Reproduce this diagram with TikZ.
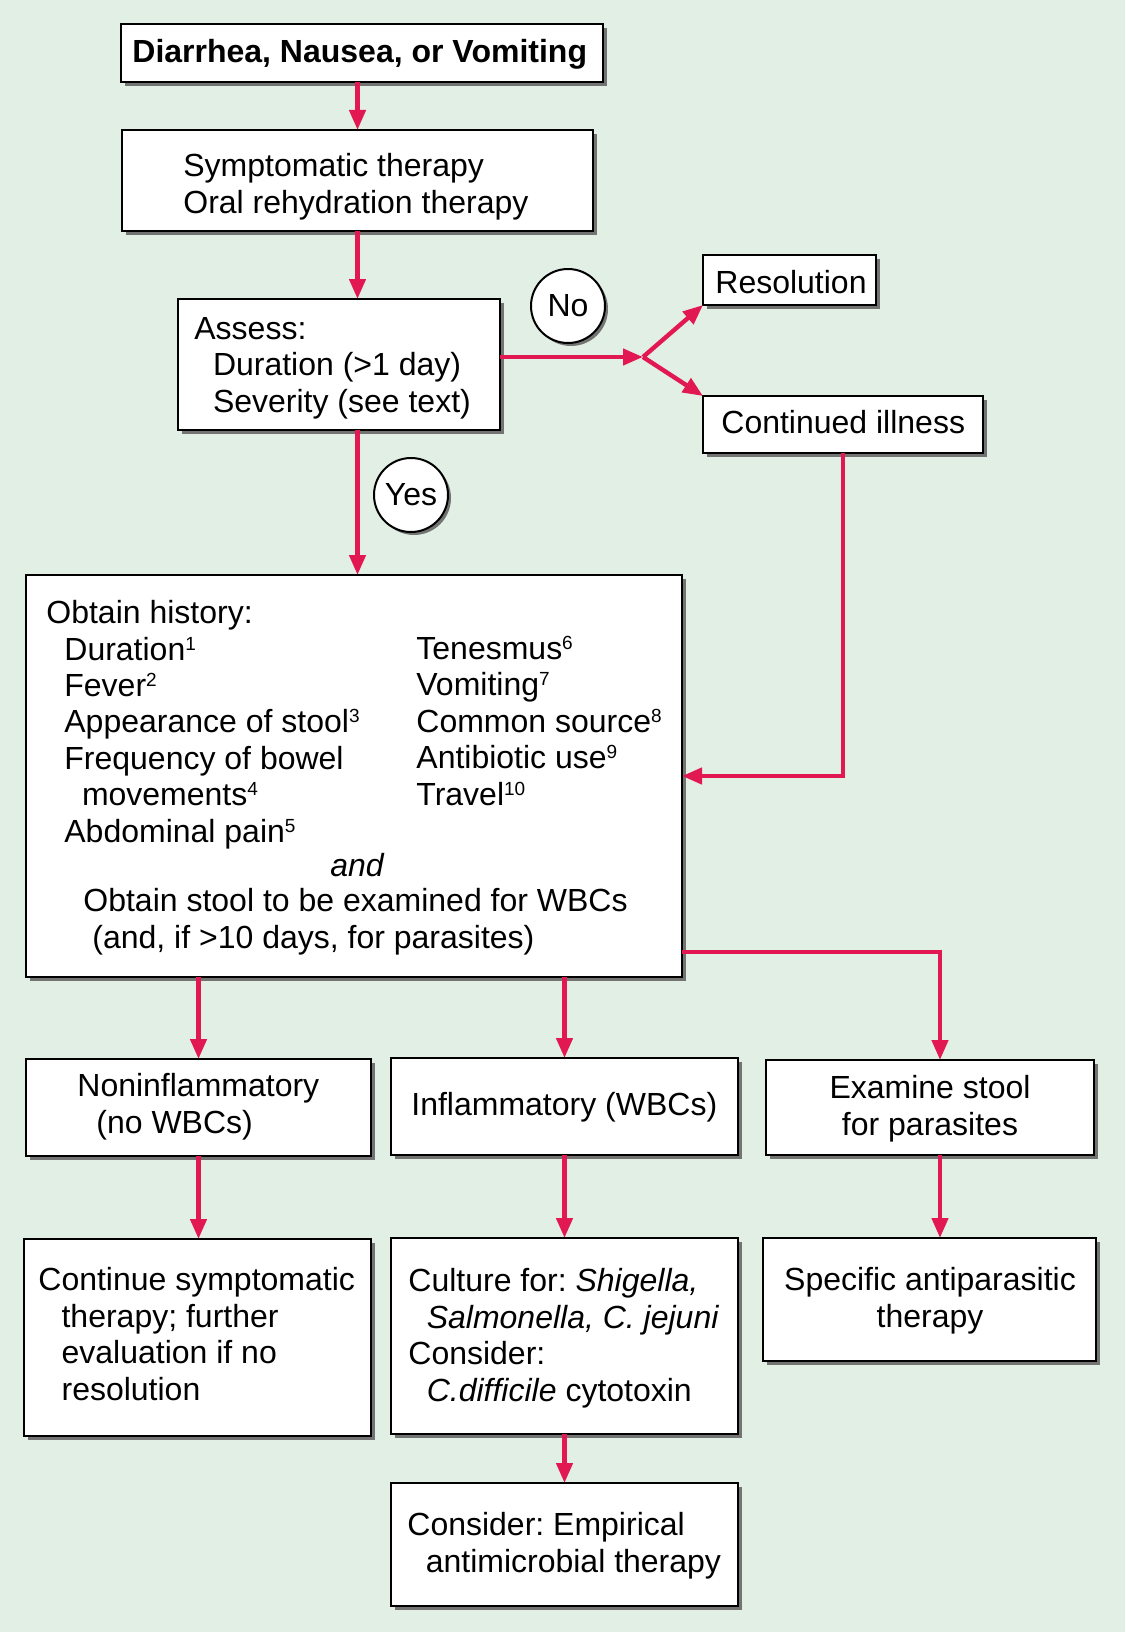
\documentclass[tikz,border=0pt]{standalone}
\usepackage{fontspec}
\setmainfont{Liberation Sans}
\usetikzlibrary{arrows.meta,shadows,fit}
\definecolor{bgcol}{RGB}{225,239,229}
\definecolor{arrred}{RGB}{226,24,82}
\newcommand{\fnsup}[1]{\raisebox{5pt}{\fontsize{9.5}{10}\selectfont #1}}
\frenchspacing
\begin{document}
\begin{tikzpicture}[x=0.5pt,y=-0.5pt,
 box/.style={draw=black, line width=1pt, fill=white, inner sep=0pt, outer sep=0pt,
   drop shadow={shadow xshift=2pt, shadow yshift=-2pt, fill=black!55, opacity=1}},
 circ/.style={circle, draw=black, line width=1pt, fill=white, minimum size=37pt, inner sep=0pt,
   font=\fontsize{16}{18.2}\selectfont,
   drop shadow={shadow xshift=1.5pt, shadow yshift=-1.5pt, fill=black!55, opacity=1}},
 txt/.style={anchor=base west, inner sep=0pt, align=left, font=\fontsize{16}{18.2}\selectfont},
 ctxt/.style={anchor=base, inner sep=0pt, align=center, font=\fontsize{16}{18.2}\selectfont},
 arr/.style={draw=arrred, line width=2.2pt, -{Triangle[length=10pt,width=8pt]}}]
\useasboundingbox (0,0) rectangle (1125,1632);
\fill[bgcol] (0,0) rectangle (1125,1632);

% boxes
\node[box, fit={(121,24) (603,82)}] (top) {};
\node[box, fit={(122,130) (593,231)}] (b2) {};
\node[box, fit={(178,299) (500,430)}] (assess) {};
\node[box, fit={(703,255) (876,305)}] (res) {};
\node[box, fit={(703,396) (983,453)}] (cont) {};
\node[box, fit={(26,575) (682,977)}] (hist) {};
\node[box, fit={(26,1059) (371,1156)}] (non) {};
\node[box, fit={(391,1058) (738,1155)}] (infl) {};
\node[box, fit={(766,1060) (1094,1155)}] (exam) {};
\node[box, fit={(24,1239) (371,1436)}] (contin) {};
\node[box, fit={(391,1238) (738,1434)}] (cult) {};
\node[box, fit={(763,1238) (1096,1361)}] (spec) {};
\node[box, fit={(391,1483) (738,1606)}] (emp) {};

% circles
\node[circ] (no) at (568,306) {No};
\node[circ] (yes) at (411,495) {Yes};

% texts (multi-line nodes are placed by the baseline of their last line)
\node[txt, font=\fontsize{16}{18.2}\selectfont\bfseries] (ttop) at (132,63) {Diarrhea, Nausea, or Vomiting};
\node[txt] (tb2) at (183,213) {Symptomatic therapy\\Oral rehydration therapy};
\node[txt] (tassess) at (194,412) {Assess:\\\hspace*{9.3pt}Duration (>1 day)\\\hspace*{9.3pt}Severity (see text)};
\node[txt] (tres) at (715,293) {Resolution};
\node[txt] (tcont) at (721,433) {Continued illness};
\node[txt] (thist1) at (46,623) {Obtain history:};
\node[txt] (thistL) at (64,842) {Duration\fnsup{1}\\Fever\fnsup{2}\\Appearance of stool\fnsup{3}\\Frequency of bowel\\\hspace*{8.8pt}movements\fnsup{4}\\Abdominal pain\fnsup{5}};
\node[txt] (thistR) at (416,805) {Tenesmus\fnsup{6}\\Vomiting\fnsup{7}\\Common source\fnsup{8}\\Antibiotic use\fnsup{9}\\Travel\fnsup{10}};
\node[txt] (tand) at (330,876) {\itshape and};
\node[txt] (tstool) at (83,948) {Obtain stool to be examined for WBCs\\\hspace*{4.5pt}(and, if >10 days, for parasites)};
\node[txt] (tnon) at (77,1133) {Noninflammatory\\\hspace*{9.5pt}(no WBCs)};
\node[txt] (tinfl) at (411,1115) {Inflammatory (WBCs)};
\node[ctxt] (texam) at (930,1135) {Examine stool\\for parasites};
\node[txt] (tcontin) at (38,1400) {Continue symptomatic\\\hspace*{11.6pt}therapy; further\\\hspace*{11.6pt}evaluation if no\\\hspace*{11.6pt}resolution};
\node[txt] (tcult) at (408,1401) {Culture for: \textit{Shigella,}\\\hspace*{9.2pt}\textit{Salmonella, C. jejuni}\\Consider:\\\hspace*{9.2pt}\textit{C.difficile} cytotoxin};
\node[ctxt] (tspec) at (930,1327) {Specific antiparasitic\\therapy};
\node[txt] (temp) at (407,1572) {Consider: Empirical\\\hspace*{9.2pt}antimicrobial therapy};

% connectors
\coordinate (fork) at (643,357);
\coordinate (ex) at (940,952);
\draw[arr] (top.south -| b2.north) -- (b2.north);
\draw[arr] (b2.south) -- (b2.south |- assess.north);
\draw[arr] (assess.south -| b2.south) -- (hist.north -| b2.south);
\draw[arr] (fork -| assess.east) -- (fork);
\draw[arr] (fork) -- (res.south west);
\draw[arr] (fork) -- (cont.north west);
\draw[arr] (cont.south) |- (hist.east);
\draw[arr] (hist.south -| non.north) -- (non.north);
\draw[arr] (hist.south -| infl.north) -- (infl.north);
\draw[arr] (ex -| hist.east) -- (ex) -- (ex |- exam.north);
\draw[arr] (non.south) -- (non.south |- contin.north);
\draw[arr] (infl.south) -- (infl.south |- cult.north);
\draw[arr] (exam.south -| ex) -- (spec.north -| ex);
\draw[arr] (cult.south) -- (cult.south |- emp.north);
\end{tikzpicture}
\end{document}
